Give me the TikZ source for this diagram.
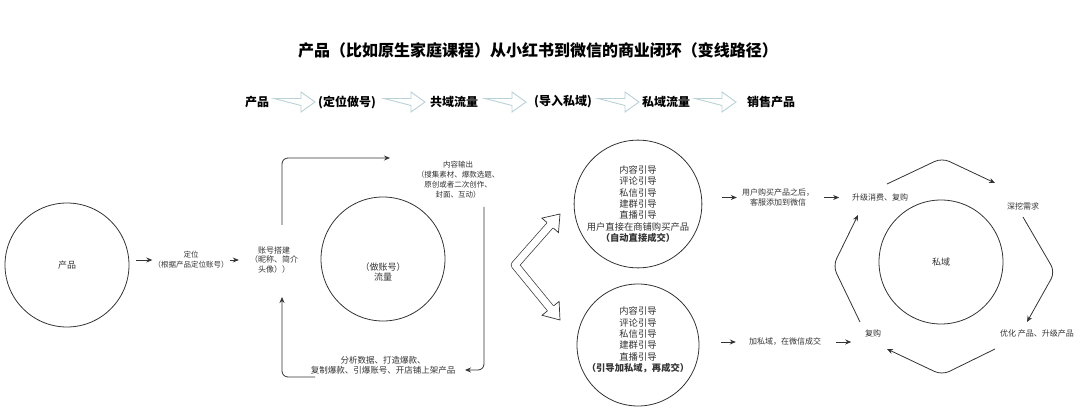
\documentclass[tikz,border=0pt]{standalone}
\usepackage{fontspec}
\setmainfont{Noto Sans CJK SC}
\usetikzlibrary{arrows.meta, positioning, calc}
\definecolor{linegray}{HTML}{333333}
\definecolor{textgray}{HTML}{333333}
\definecolor{blockgray}{HTML}{B8D2D6}

\tikzset{
  ring/.style={circle, draw=linegray, line width=0.8pt, minimum size=124pt, inner sep=0pt, text=textgray, align=center, font=\fontsize{9}{11}\selectfont},
  circtext/.style={align=center, inner sep=1pt, text=textgray, font=\fontsize{9.3}{11.4}\selectfont},
  smalltext/.style={align=center, inner sep=1pt, text=textgray, font=\fontsize{7.5}{10}\selectfont},
  sidetext/.style={align=center, inner sep=1pt, text=textgray, font=\fontsize{8}{9.5}\selectfont},
  steptext/.style={inner sep=1pt, font=\fontsize{12}{14}\selectfont\bfseries},
  arr/.style={draw=linegray, line width=0.8pt, -{Stealth[length=6pt,width=5pt]}},
  blockarr/.style={draw=blockgray, line width=0.9pt, fill=white},
  bentarr/.style={draw=linegray, line width=0.7pt},
}

\begin{document}
\begin{tikzpicture}[x=1pt, y=-1pt]
\useasboundingbox (0,0) rectangle (1080,409);

% title and top row
\node[font=\fontsize{16}{18}\selectfont\bfseries] (title) at (538,50) {产品（比如原生家庭课程）从小红书到微信的商业闭环（变线路径）};

\node[steptext] (s1) at (257,102) {产品};
\node[steptext] (s2) at (347,102) {(定位做号)};
\node[steptext] (s3) at (454,102) {共域流量};
\node[steptext] (s4) at (563,102) {(导入私域)};
\node[steptext] (s5) at (666,102) {私域流量};
\node[steptext] (s6) at (771,102) {销售产品};

\draw[blockarr] (274,98.5) -- ++(27,0) -- ++(0,-6.5) -- ++(14,10) -- ++(-14,10) -- ++(0,-6.5) -- cycle;
\draw[blockarr] (384,98.5) -- ++(27,0) -- ++(0,-6.5) -- ++(14,10) -- ++(-14,10) -- ++(0,-6.5) -- cycle;
\draw[blockarr] (485,98.5) -- ++(27,0) -- ++(0,-6.5) -- ++(14,10) -- ++(-14,10) -- ++(0,-6.5) -- cycle;
\draw[blockarr] (598,98.5) -- ++(27,0) -- ++(0,-6.5) -- ++(14,10) -- ++(-14,10) -- ++(0,-6.5) -- cycle;
\draw[blockarr] (695,98.5) -- ++(27,0) -- ++(0,-6.5) -- ++(14,10) -- ++(-14,10) -- ++(0,-6.5) -- cycle;

% product and account
\node[ring] (cp) at (67,265) {产品};
\node[smalltext] (dw) at (191,260) {定位\\（根据产品定位账号）};
\node[sidetext] (zhbj) at (274,260) {账号搭建\\（昵称、简介\\头像））};
\draw[arr] ([xshift=-16pt]dw.west) -- (dw.west);
\draw[arr] (dw.east) -- ([xshift=-10pt]zhbj.west);

\node[ring] (zh) at (383,259) {};
\node[circtext, font=\fontsize{9}{10.5}\selectfont] (zhtext) at (383,272) {（做账号）\\流量};

\node[smalltext] (nrsc) at (458,180) {内容输出\\（搜集素材、爆款选题、\\原创或者二次创作、\\封面、互动）};
\node[smalltext, font=\fontsize{8.5}{10}\selectfont] (fxsj) at (383,365) {分析数据、打造爆款、\\复制爆款、引爆账号、开店铺上架产品};

\coordinate (upS) at (282,225);
\coordinate (upE) at (390,158);
\coordinate (rtS) at (484,207);
\coordinate (rtE) at (465,370);
\coordinate (btS) at (315,377);
\coordinate (btE) at (282,297);
\draw[arr, rounded corners=6pt] (upS) |- (upE);
\draw[arr, rounded corners=6pt] (rtS) |- (rtE);
\draw[arr, rounded corners=6pt] (btS) -| (btE);

% bent double arrow
\coordinate (bendV) at (515,265);
\coordinate (tipU) at (560,214);
\coordinate (tipD) at (560,320);
\draw[bentarr, double=white, double distance=7pt, line join=round] ($(tipU)!14pt!(bendV)$) -- (bendV) -- ($(tipD)!14pt!(bendV)$);
\begin{scope}[shift={(tipU)}, rotate=49]
\draw[bentarr, fill=white] (-15,4.2) -- (-15,11) -- (0,0) -- (-15,-11) -- (-15,-4.2);
\end{scope}
\begin{scope}[shift={(tipD)}, rotate=-51]
\draw[bentarr, fill=white] (-15,4.2) -- (-15,11) -- (0,0) -- (-15,-11) -- (-15,-4.2);
\end{scope}

% two ways of guiding
\node[ring, minimum size=122pt, font=\fontsize{9.3}{11.4}\selectfont] (yd1) at (638,204) {内容引导\\评论引导\\私信引导\\建群引导\\直播引导\\用户直接在商铺购买产品\\\textbf{（自动直接成交）}};
\node[ring, minimum size=122pt] (yd2) at (638,345) {};
\node[circtext] (yd2text) at (638,340) {内容引导\\评论引导\\私信引导\\建群引导\\直播引导\\\textbf{（引导加私域，再成交）}};

\node[sidetext] (yhgm) at (778,197.5) {用户购买产品之后，\\客服添加到微信};
\node[sidetext] (jsy) at (785,342) {加私域，在微信成交};
\draw[arr] ([xshift=-19pt]yhgm.west) -- ([xshift=-4pt]yhgm.west);
\draw[arr] ([xshift=9pt]yhgm.east) -- ([xshift=24pt]yhgm.east);
\draw[arr] ([xshift=-27pt]jsy.west) -- ([xshift=-12pt]jsy.west);
\draw[arr] ([xshift=14pt]jsy.east) -- ([xshift=29pt]jsy.east);

% private domain loop
\node[ring, font=\fontsize{9}{11}\selectfont] (sy) at (941,262) {私域};
\node[sidetext] (sjxf) at (880,197) {升级消费、复购};
\node[sidetext] (wjxq) at (1023,206) {深挖需求};
\node[sidetext] (yhcp) at (1037,333) {优化 产品、升级产品};
\node[sidetext] (fg) at (873,333) {复购};

\coordinate (h1) at (887,184);
\coordinate (h2) at (942,158);
\coordinate (h3) at (995,183);
\coordinate (h4) at (1023,217);
\coordinate (h5) at (1055,272);
\coordinate (h6) at (1027,322);
\coordinate (h7) at (995,349);
\coordinate (h8) at (942,375);
\coordinate (h9) at (887,349);
\coordinate (h10) at (860,322);
\coordinate (h11) at (833,266);
\coordinate (h12) at (858,215);
\draw[arr, rounded corners=8pt] (h1) -- (h2) -- (h3);
\draw[arr, rounded corners=8pt] (h4) -- (h5) -- (h6);
\draw[arr, rounded corners=8pt] (h7) -- (h8) -- (h9);
\draw[arr, rounded corners=8pt] (h10) -- (h11) -- (h12);
\end{tikzpicture}
\end{document}
